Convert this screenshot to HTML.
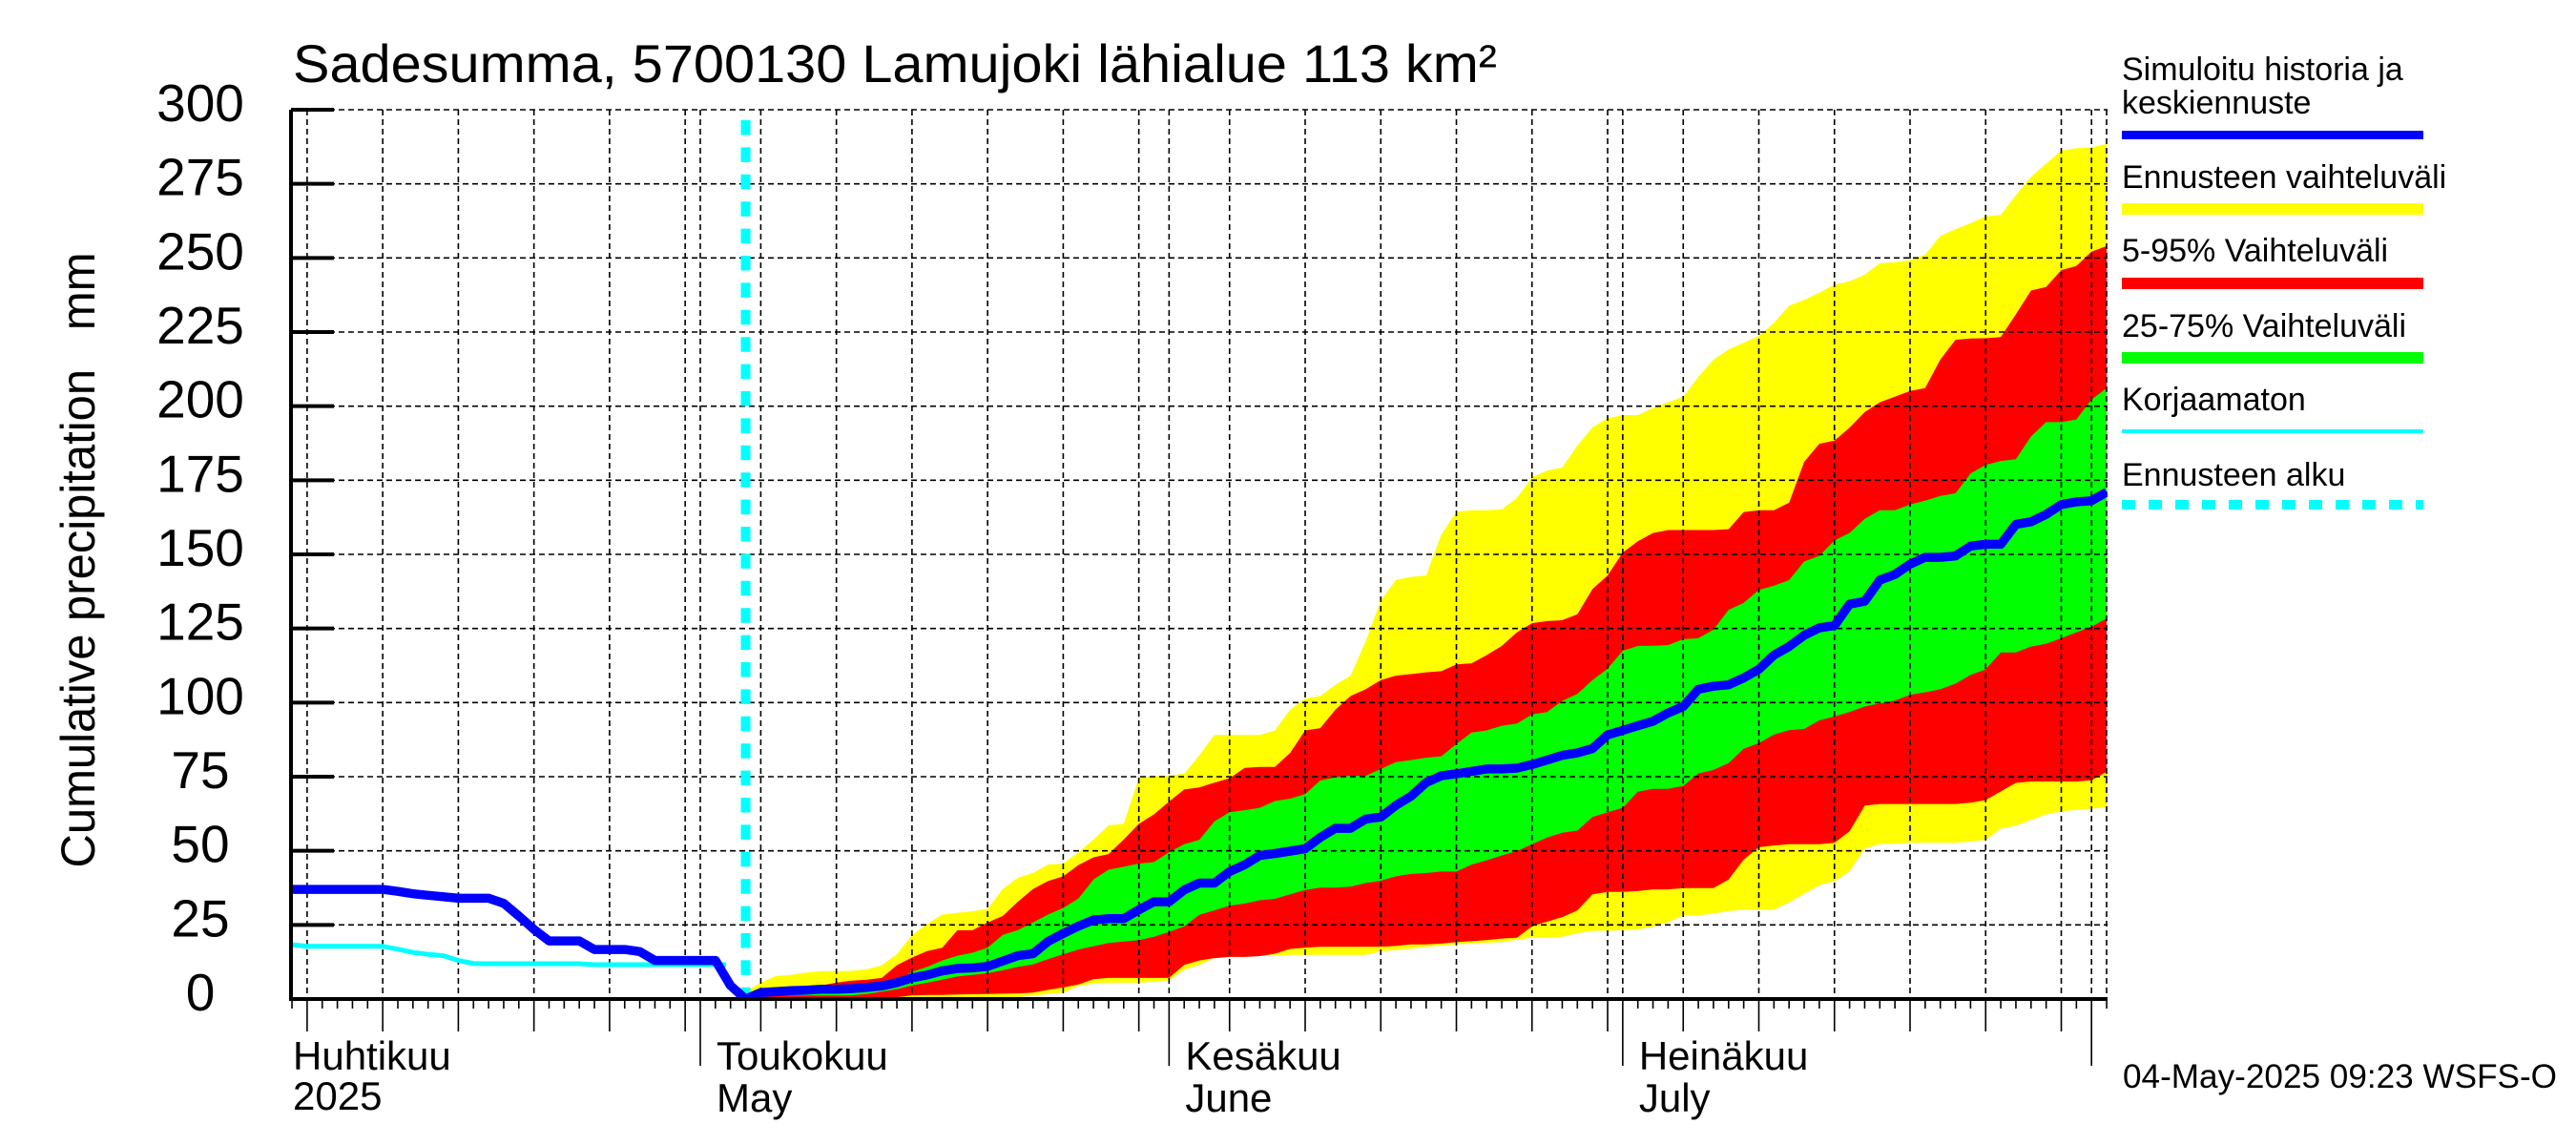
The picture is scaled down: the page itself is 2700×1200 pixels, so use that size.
<!DOCTYPE html>
<html><head><meta charset="utf-8"><style>
html,body{margin:0;padding:0;background:#fff;width:2700px;height:1200px;overflow:hidden}
svg{display:block;font-family:"Liberation Sans",sans-serif}
</style></head><body>
<svg id="chart" width="2700" height="1200" viewBox="0 0 2700 1200" xmlns="http://www.w3.org/2000/svg">
<defs><clipPath id="plotclip"><rect x="307" y="100" width="1902" height="947"/></clipPath></defs>
<text x="307" y="86" font-size="56" textLength="1262" lengthAdjust="spacingAndGlyphs">Sadesumma, 5700130 Lamujoki lähialue 113 km²</text>
<text transform="translate(99,587) rotate(-90)" text-anchor="middle" font-size="50" textLength="645" lengthAdjust="spacingAndGlyphs">Cumulative precipitation&#160;&#160;&#160;mm</text>
<g id="bands" clip-path="url(#plotclip)"></g>
<g id="grid"></g>
<g id="lines" clip-path="url(#plotclip)"></g>
<g id="axes"></g>
<g id="legend">
<text x="2224" y="84" font-size="34">Simuloitu historia ja</text>
<text x="2224" y="119" font-size="34">keskiennuste</text>
<rect x="2224" y="137" width="316" height="9" fill="#0000ff"/>
<text x="2224" y="197" font-size="34">Ennusteen vaihteluväli</text>
<rect x="2224" y="213" width="316" height="12" fill="#ffff00"/>
<text x="2224" y="274" font-size="34">5-95% Vaihteluväli</text>
<rect x="2224" y="291" width="316" height="12" fill="#ff0000"/>
<text x="2224" y="353" font-size="34">25-75% Vaihteluväli</text>
<rect x="2224" y="369" width="316" height="12" fill="#00ff00"/>
<text x="2224" y="430" font-size="34">Korjaamaton</text>
<rect x="2224" y="450" width="316" height="4" fill="#00ffff"/>
<text x="2224" y="509" font-size="34">Ennusteen alku</text>
<line x1="2224" y1="529" x2="2540" y2="529" stroke="#00ffff" stroke-width="10" stroke-dasharray="14 14"/>
</g>
<text x="2225" y="1140" font-size="35" textLength="455" lengthAdjust="spacingAndGlyphs">04-May-2025 09:23 WSFS-O</text>
</svg>
<script>
// data: days relative to May 1 (0 = May 1)
const histDays = [-27,-26,-25,-24,-23,-22,-21,-20,-19,-18,-17,-16,-15,-14,-13,-12,-11,-10,-9,-8,-7,-6,-5,-4,-3,-2,-1,0,1,2,3];
const histValues = [37,37,37,37,37,37,37,36.3,35.5,35,34.5,34,34,34,32.3,28,23.5,19.6,19.6,19.6,16.7,16.7,16.7,16,13,13,13,13,13,4.5,0];
const rawDays = [-27,-26,-25,-24,-23,-22,-21,-20,-19,-18,-17,-16,-15,-14,-13,-12,-11,-10,-9,-8,-7,-6,-5,-4,-3,-2,-1,0,1,1.7];
const rawValues = [18.3,17.8,17.8,17.8,17.8,17.8,17.8,16.8,15.7,15.1,14.6,13,12,11.9,11.9,11.9,11.9,11.9,11.9,11.9,11.6,11.6,11.6,11.6,11.6,11.6,11.6,11.6,11.6,11.6];
const forecastStartDay = 3;
const rangeMax = [2.3,5.5,7.8,8.1,8.9,9.4,9.4,9.5,10,11.4,15.1,21.6,25.3,28.5,29.1,29.6,30.4,37.1,40.9,42.5,45.4,45.7,49.5,53.8,58.6,59.1,74.7,75.2,75.4,
76,82.2,89.1,89.1,89.1,89.1,90.6,97.6,101.4,102.2,106,109.1,120.6,134.5,141.4,142.4,142.9,156.7,164.4,164.9,164.9,165.2,169,176,178.3,179.3,186.7,192.9,195.9,197,197,
199.4,201.3,203.2,209.9,215.7,219.1,221.4,223.7,228.1,233.9,235.8,238.3,241,242.1,244.4,248.2,248.6,249.2,251.1,257.4,259.7,261.7,264,264.5,271.2,277.4,281.8,286.2,287,287.3,288.5];
const p95 = [1.2,2.5,3.9,4.1,4.4,4.6,5.5,6.2,6.5,7.1,11.4,14,16.2,17.3,23.2,23.2,25.8,28,32.8,37.1,39.8,41.4,45.2,47.8,48.9,53.8,59.1,62.3,66.6,
70.7,71.4,73,74.5,78,78.3,78.3,83,90.6,91.4,97.6,102.2,104.5,107.6,109.1,109.6,110.2,110.6,112.9,113.2,116,119.1,123.7,126.8,127.5,127.8,129.8,138.3,142.9,150.6,154.4,
157.2,158.2,158.2,158.2,158.2,158.5,164.3,164.9,164.9,167.4,181.2,187.3,188.4,192.7,198,201.3,203.2,205.1,206.1,215.7,222.4,222.8,222.9,223.3,231,239,240.2,245.9,247.3,252.1,254];
const p75 = [1.2,1.7,2.8,3.1,3.3,3.5,3.7,4.1,4.4,4.9,6,9.2,10.8,13,14.6,15.6,17.3,21.6,23.2,25.8,28.5,30.7,33.9,40.3,43.6,44.6,45.7,46.2,49.5,
52.2,53.7,59.9,63,63.7,64.5,66.8,67.6,69.1,73.7,74.8,75.3,75.3,77.6,79.9,80.6,81.4,81.9,86,89.9,90.6,92.2,92.9,96,96.8,100.6,102.9,107.6,111.4,117.5,119.1,
119.2,119.4,121.4,121.7,124.6,131.3,133.6,138,139.4,141.3,147.6,149.5,154.7,157.2,162,164.9,164.9,166.8,168.1,169.7,170.6,177.3,180.2,181.5,182.1,189.8,194.6,194.6,195.5,202.2,206.1];
const median = [0,2.2,2.5,2.8,3,3.3,3.3,3.5,3.9,4.4,5.5,7.1,8.1,9.5,10.3,10.5,11,12.8,14.6,15.3,19.4,22.1,24.6,26.7,27.1,27.1,30.1,32.8,32.8,
36.8,39.1,39.1,43,45.3,48.4,49.1,49.9,50.7,54.5,57.6,57.6,60.7,61.4,65.3,68.4,73,75.3,76,76.8,77.6,77.6,77.9,79.1,80.6,82.2,83,84.5,89.1,90.6,92.2,
93.7,96.5,98.7,104.5,105.5,106,108.3,111.2,116,118.9,122.7,125.2,126,133.2,134.2,141.3,143.2,146.7,149,149,149.5,152.8,153.4,153.4,160.1,161,163.5,166.8,167.7,168.1,171];
const p25 = [0.8,1.2,1.2,1.2,1.2,1.2,1.2,1.2,1.7,2.5,3.3,4.6,5.5,6.5,7.6,8.1,8.7,9.7,10.8,11.7,13.5,15.1,16.7,17.8,18.9,19.4,19.9,21,22.6,
24.5,28.4,29.9,31.5,32.2,33.3,33.8,35.3,36.8,37.6,37.6,37.9,39.1,39.9,41.4,42.2,42.5,43,43,45.3,46.8,48.4,49.9,52.2,54.5,56.1,56.8,61.4,63,64.5,69.9,
70.9,70.9,71.9,76.1,77.3,79.6,84.4,86.3,89.2,90.7,91.1,94,95.3,96.8,98.7,99.7,100.7,102.6,103.5,104.5,106.4,109.3,111.2,116.9,116.9,118.9,119.8,121.7,123.7,125.6,128.4];
const p5 = [0.6,0.6,0.6,0.6,0.6,0.6,0.6,0.6,0.6,0.6,0.6,1.2,1.4,1.4,1.5,1.6,1.7,1.8,1.9,2.2,3.1,3.9,4.9,6.7,7.1,7.1,7.1,7.1,7.1,
11.5,13,13.8,14.2,14.2,14.5,15.3,16.9,17.3,17.6,17.6,17.6,17.6,17.6,17.9,18.4,18.4,18.7,19.2,19.5,19.9,20.4,20.7,24.5,26.1,27.6,29.9,35.3,36.1,36.1,36.4,
37,37,37.4,37.4,37.4,40.3,47,51.2,51.8,52.2,52.2,52.2,52.7,56.6,65.2,65.8,65.8,65.8,65.8,65.8,65.8,66.2,67.1,70,72.9,73.4,73.4,73.4,73.4,73.8,76.7];
const rangeMin = [0.6,0.6,0.6,0.6,0.6,0.6,0.6,0.6,0.6,0.6,0.6,0.6,0.6,0.6,0.6,0.6,0.6,0.6,0.6,1.2,1.7,2.2,4.4,5.2,5.5,5.5,5.5,5.8,6.3,
9.9,11.5,13.8,14.2,14.2,14.5,14.7,14.9,14.9,14.9,14.9,14.9,14.9,16.1,16.5,17,17.6,18,18.4,18.7,19,19.2,20,20.7,20.7,21,22.2,23,23,23.2,23.5,
24.4,25.9,28.2,28.2,28.8,29.7,30.1,30.1,30.1,32.6,35.5,38.4,39.7,43.1,50.8,52.3,52.3,52.7,52.7,52.7,52.7,53.1,53.7,57.5,58.5,60.4,62.3,63.3,63.8,64.2,64.6];
const yTicks = [0,25,50,75,100,125,150,175,200,225,250,275,300];
const monthStarts = [0,31,61,92];
const monthLabelsFi = ["Toukokuu","Kesäkuu","Heinäkuu"];
const monthLabelsEn = ["May","June","July"];
const gridDays = [-26,-21,-16,-11,-6,-1,0,4,9,14,19,24,29,31,35,40,45,50,55,60,61,65,70,75,80,85,90,92];

const NS = "http://www.w3.org/2000/svg";
const X0 = 305, X1 = 2209, Y0 = 1047, YT = 115;
function xs(d){ return 734 + d*15.85; }
function ys(v){ return Y0 - v*(Y0-YT)/300; }
function mk(tag, attrs, parent){
  const e = document.createElementNS(NS, tag);
  for (const k in attrs) e.setAttribute(k, attrs[k]);
  parent.appendChild(e); return e;
}
const bands = document.getElementById('bands');
const grid = document.getElementById('grid');
const lines = document.getElementById('lines');
const axes = document.getElementById('axes');

function band(upper, lower, color, name){
  const pts = [];
  for (let i=0;i<upper.length;i++) pts.push(xs(forecastStartDay+i).toFixed(1)+','+ys(upper[i]).toFixed(1));
  for (let i=lower.length-1;i>=0;i--) pts.push(xs(forecastStartDay+i).toFixed(1)+','+ys(lower[i]).toFixed(1));
  pts.unshift(xs(forecastStartDay).toFixed(1)+','+ys(0).toFixed(1));
  const p = mk('polygon', {points: pts.join(' '), fill: color}, bands);
  
  
}
band(rangeMax, rangeMin, '#ffff00', 'band-full-range');
band(p95, p5, '#ff0000', 'band-5-95');
band(p75, p25, '#00ff00', 'band-25-75');

for (const v of yTicks){
  if (v === 0) continue;
  const l = mk('line', {x1:X0, x2:X1, y1:ys(v), y2:ys(v), stroke:'#000', 'stroke-width':1.6, 'stroke-dasharray':'6 4'}, grid);
  
  
}
for (const d of gridDays){
  const l = mk('line', {x1:xs(d), x2:xs(d), y1:YT, y2:Y0, stroke:'#000', 'stroke-width':1.6, 'stroke-dasharray':'6 4'}, grid);
  
  
}
{
  const l = mk('line', {x1:X1-1, x2:X1-1, y1:YT, y2:Y0, stroke:'#000', 'stroke-width':1.6, 'stroke-dasharray':'6 4'}, grid);
  
  
}

const rawPts = rawDays.map((d,i)=>xs(d).toFixed(1)+','+ys(rawValues[i]).toFixed(1)).join(' ');
const raw = mk('polyline', {points: rawPts, fill:'none', stroke:'#00ffff', 'stroke-width':5}, lines);



const fs = mk('line', {x1:xs(forecastStartDay), x2:xs(forecastStartDay), y1:126, y2:Y0, stroke:'#00ffff', 'stroke-width':10, 'stroke-dasharray':'15.5 12.9'}, lines);



const mainPts = histDays.map((d,i)=>xs(d).toFixed(1)+','+ys(histValues[i]).toFixed(1));
for (let i=1;i<median.length;i++) mainPts.push(xs(forecastStartDay+i).toFixed(1)+','+ys(median[i]).toFixed(1));
const ml = mk('polyline', {points: mainPts.join(' '), fill:'none', stroke:'#0000ff', 'stroke-width':9.5, 'stroke-linejoin':'round'}, lines);



const ya = mk('line', {x1:X0, x2:X0, y1:YT, y2:Y0+2, stroke:'#000', 'stroke-width':4}, axes);


const xa = mk('line', {x1:X0-2, x2:X1, y1:Y0, y2:Y0, stroke:'#000', 'stroke-width':4}, axes);


for (const v of yTicks){
  const t = mk('line', {x1:X0, x2:350, y1:ys(v), y2:ys(v), stroke:'#000', 'stroke-width':4}, axes);
  
  
  const lb = mk('text', {x:210, y:ys(v)+12, 'text-anchor':'middle', 'font-size':55}, axes);
  lb.textContent = String(v);
  
  
}
for (let d=-27; d<=93; d++){
  let len = 10;
  if (gridDays.includes(d)) len = 34;
  if (monthStarts.includes(d)) len = 70;
  const t = mk('line', {x1:xs(d), x2:xs(d), y1:Y0, y2:Y0+len, stroke:'#000', 'stroke-width':1.6}, axes);
  
  
}
function lbl(x, y, txt, name){
  const t = mk('text', {x:x, y:y, 'font-size':42}, axes);
  t.textContent = txt;
  
  
}
lbl(307, 1121, 'Huhtikuu', 'month-label-april');
lbl(307, 1163, '2025', 'year-label');
for (let i=0;i<monthLabelsFi.length;i++){
  lbl(xs(monthStarts[i])+17, 1121, monthLabelsFi[i], 'month-label-fi');
  lbl(xs(monthStarts[i])+17, 1165, monthLabelsEn[i], 'month-label-en');
}
</script>
</body></html>
